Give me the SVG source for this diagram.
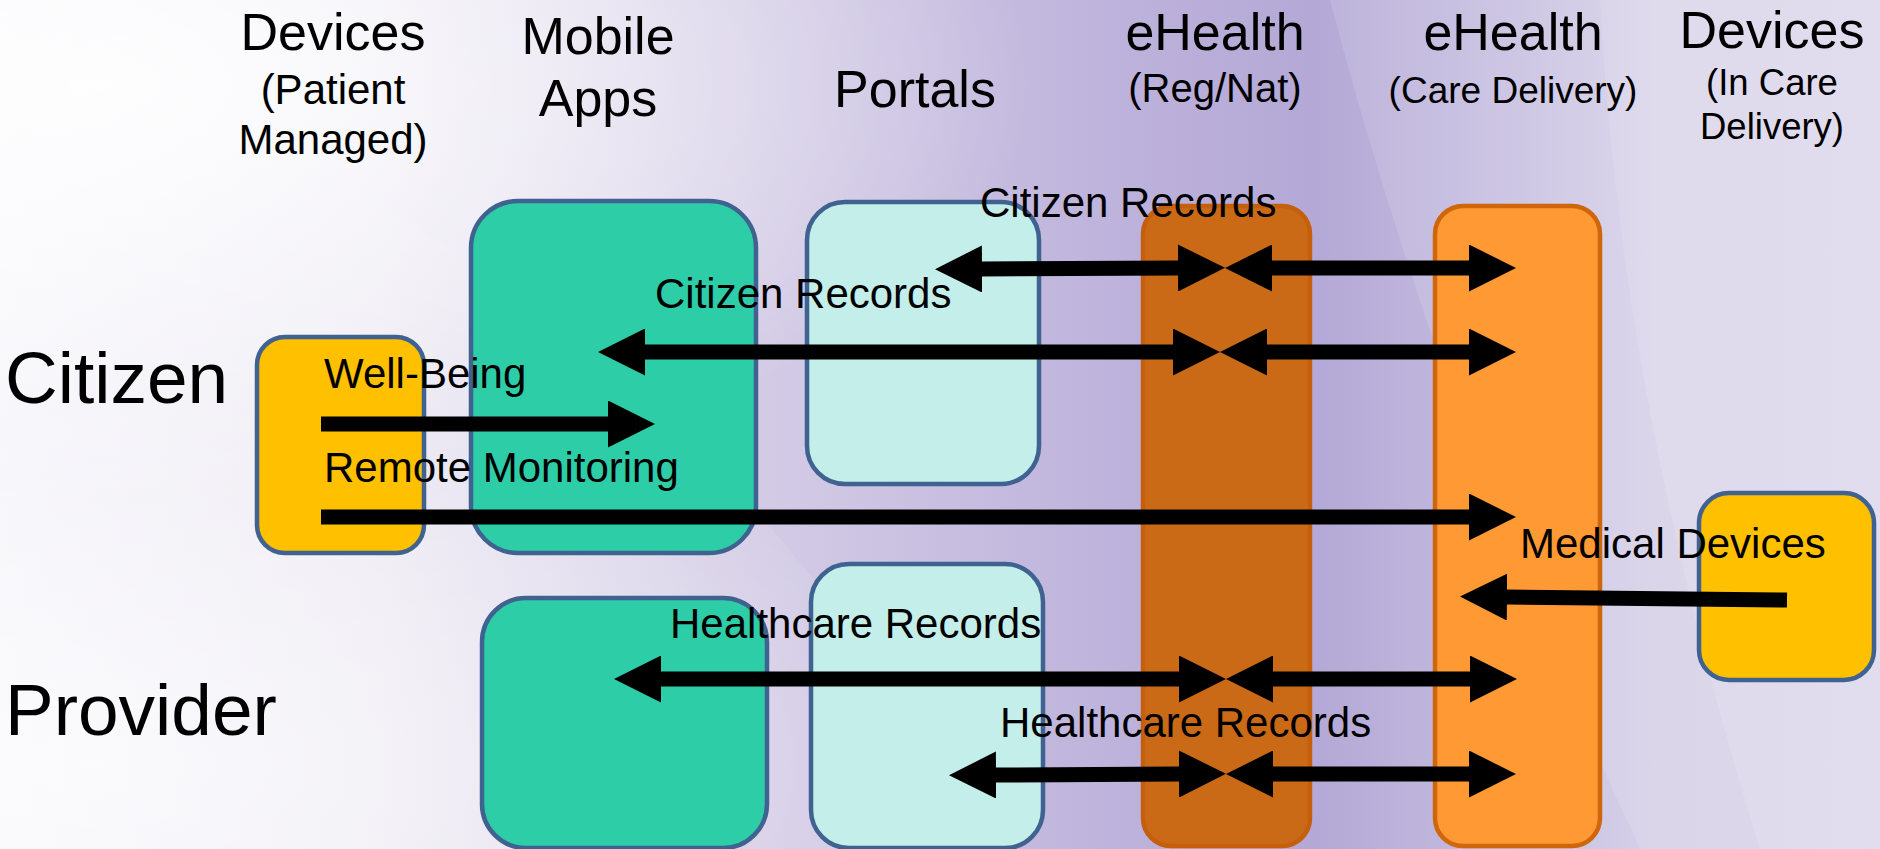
<svg xmlns="http://www.w3.org/2000/svg" width="1880" height="849" viewBox="0 0 1880 849">
  <defs>
    <linearGradient id="bgBase" x1="0" y1="0" x2="1" y2="0">
      <stop offset="0" stop-color="#F6F5FA"/>
      <stop offset="0.2" stop-color="#ECE9F3"/>
      <stop offset="0.4" stop-color="#D4CCE6"/>
      <stop offset="0.6" stop-color="#BDB2DB"/>
      <stop offset="0.7" stop-color="#B4A8D6"/>
      <stop offset="0.8" stop-color="#C6BEE0"/>
      <stop offset="0.88" stop-color="#D6D0E8"/>
      <stop offset="1" stop-color="#D9D4EA"/>
    </linearGradient>
    <radialGradient id="glowTL" cx="0.05" cy="0.1" r="0.5">
      <stop offset="0" stop-color="#FFFFFF" stop-opacity="0.9"/>
      <stop offset="1" stop-color="#FFFFFF" stop-opacity="0"/>
    </radialGradient>
    <radialGradient id="glowBL" cx="0.05" cy="0.9" r="0.45">
      <stop offset="0" stop-color="#FFFFFF" stop-opacity="0.6"/>
      <stop offset="1" stop-color="#FFFFFF" stop-opacity="0"/>
    </radialGradient>
    <marker id="head" viewBox="0 0 47 47" markerUnits="userSpaceOnUse" markerWidth="47" markerHeight="47" refX="1" refY="23.5" orient="auto-start-reverse">
      <path d="M0,0 L47,23.5 L0,47 Z" fill="#000"/>
    </marker>
    <style>
      .hdr { font-family: "Liberation Sans", Arial, sans-serif; font-size: 52px; fill: #000; text-anchor: middle; }
      .sub { font-family: "Liberation Sans", Arial, sans-serif; font-size: 40px; fill: #000; text-anchor: middle; }
      .row { font-family: "Liberation Sans", Arial, sans-serif; font-size: 73px; fill: #000; }
      .lbl { font-family: "Liberation Sans", Arial, sans-serif; font-size: 42px; fill: #000; }
      .blue { stroke: #3F6290; stroke-width: 4.5; }
      .yellow { fill: #FFC000; }
      .teal { fill: #2DCDA8; }
      .pale { fill: #C3EEE9; }
      .regnat { fill: #CA6A17; stroke: #C55F0C; stroke-width: 4.5; }
      .care { fill: #FF9933; stroke: #CF660C; stroke-width: 4.5; }
      .conn line { stroke: #000; stroke-width: 15; fill: none; }
      .bi { marker-start: url(#head); marker-end: url(#head); }
      .uni { marker-end: url(#head); }
    </style>
  </defs>

  <!-- background -->
  <rect width="1880" height="849" fill="url(#bgBase)"/>
  <rect width="1880" height="849" fill="url(#glowTL)"/>
  <rect width="1880" height="849" fill="url(#glowBL)"/>
  <path d="M1330,0 L1880,0 L1880,849 L1640,849 Q1440,420 1330,0 Z" fill="#FFFFFF" fill-opacity="0.12"/>
  <path d="M1600,0 L1880,0 L1880,849 L1760,849 Q1620,400 1600,0 Z" fill="#FFFFFF" fill-opacity="0.12"/>
  <path d="M0,60 Q620,200 1000,849 L0,849 Z" fill="#FFFFFF" fill-opacity="0.08"/>

  <!-- column headers -->
  <g id="hdr-devices-patient">
    <text class="hdr" x="333" y="50">Devices</text>
    <text class="sub" x="333" y="104" style="font-size:42px">(Patient</text>
    <text class="sub" x="333" y="154" style="font-size:42px">Managed)</text>
  </g>
  <g id="hdr-mobile">
    <text class="hdr" x="598" y="54">Mobile</text>
    <text class="hdr" x="598" y="116">Apps</text>
  </g>
  <g id="hdr-portals">
    <text class="hdr" x="915" y="107">Portals</text>
  </g>
  <g id="hdr-ehealth-regnat">
    <text class="hdr" x="1215" y="50">eHealth</text>
    <text class="sub" x="1215" y="102">(Reg/Nat)</text>
  </g>
  <g id="hdr-ehealth-care">
    <text class="hdr" x="1513" y="50">eHealth</text>
    <text class="sub" x="1513" y="103" style="font-size:37px">(Care Delivery)</text>
  </g>
  <g id="hdr-devices-care">
    <text class="hdr" x="1772" y="48">Devices</text>
    <text class="sub" x="1772" y="95" style="font-size:36.5px">(In Care</text>
    <text class="sub" x="1772" y="139" style="font-size:36.5px">Delivery)</text>
  </g>

  <!-- row labels -->
  <g id="row-citizen"><text class="row" x="5" y="403">Citizen</text></g>
  <g id="row-provider"><text class="row" x="5" y="735">Provider</text></g>

  <!-- nodes -->
  <g id="devices-patient"><rect class="yellow blue" x="257" y="337" width="167" height="216" rx="28"/></g>
  <g id="mobile-citizen"><rect class="teal blue" x="471" y="201" width="285" height="352" rx="47"/></g>
  <g id="portal-citizen"><rect class="pale blue" x="807" y="202" width="232" height="282" rx="38"/></g>
  <g id="mobile-provider"><rect class="teal blue" x="482" y="598" width="285" height="250" rx="44"/></g>
  <g id="portal-provider"><rect class="pale blue" x="811" y="564" width="232" height="284" rx="38"/></g>
  <g id="ehealth-regnat"><rect class="regnat" x="1143" y="206" width="167" height="640" rx="28"/></g>
  <g id="ehealth-care"><rect class="care" x="1435" y="206" width="165" height="640" rx="28"/></g>
  <g id="devices-care"><rect class="yellow blue" x="1699" y="493" width="175" height="187" rx="30"/></g>

  <!-- connectors -->
  <g id="connectors" class="conn">
    <line class="bi" x1="981" y1="269" x2="1179" y2="268"/>
    <line class="bi" x1="1271" y1="268" x2="1470" y2="268"/>
    <line class="bi" x1="644" y1="352" x2="1174" y2="352"/>
    <line class="bi" x1="1266" y1="352" x2="1470" y2="352"/>
    <line class="uni" x1="321" y1="424" x2="609" y2="424"/>
    <line class="uni" x1="321" y1="517" x2="1470" y2="517"/>
    <line class="uni" x1="1787" y1="600" x2="1506" y2="597"/>
    <line class="bi" x1="660" y1="679" x2="1180" y2="679"/>
    <line class="bi" x1="1272" y1="679" x2="1471" y2="679"/>
    <line class="bi" x1="995" y1="775" x2="1180" y2="774"/>
    <line class="bi" x1="1272" y1="774" x2="1470" y2="774"/>
  </g>

  <!-- connector labels -->
  <g id="connector-labels">
    <text class="lbl" x="980" y="217">Citizen Records</text>
    <text class="lbl" x="655" y="308">Citizen Records</text>
    <text class="lbl" x="324" y="388">Well-Being</text>
    <text class="lbl" x="324" y="482">Remote Monitoring</text>
    <text class="lbl" x="1520" y="558">Medical Devices</text>
    <text class="lbl" x="670" y="638">Healthcare Records</text>
    <text class="lbl" x="1000" y="737">Healthcare Records</text>
  </g>
</svg>
